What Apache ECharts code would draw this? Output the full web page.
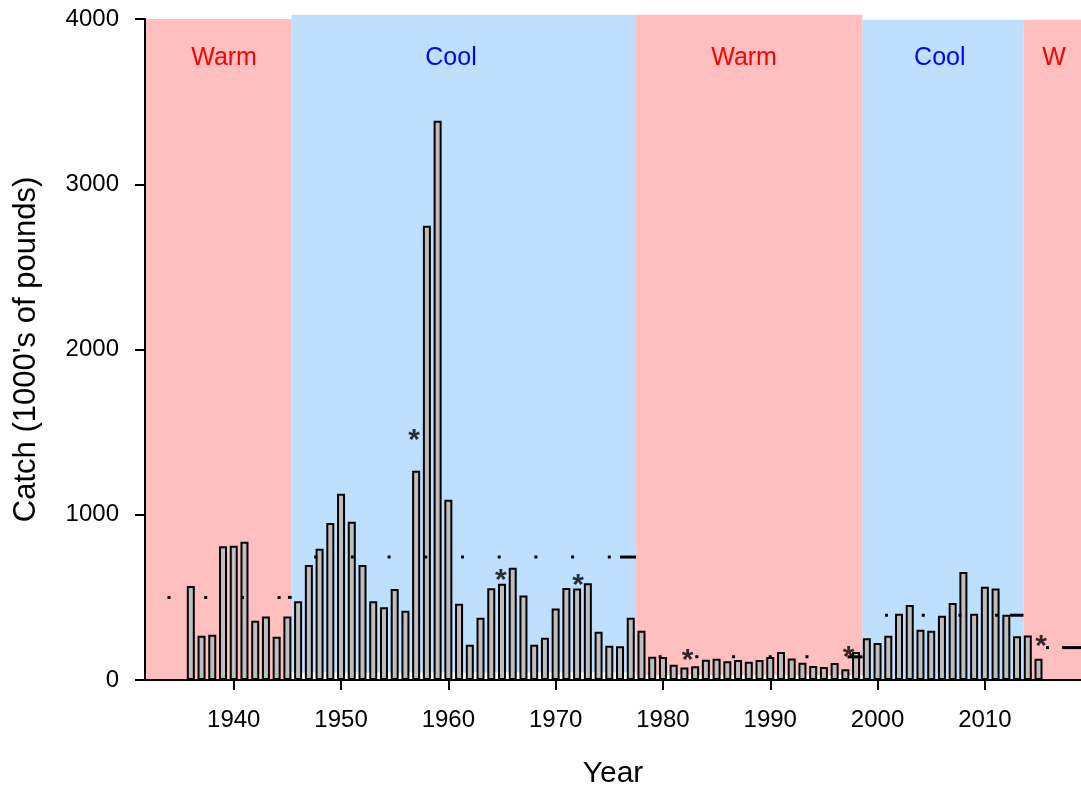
<!DOCTYPE html>
<html>
<head>
<meta charset="utf-8">
<title>Catch by year</title>
<script src="https://cdn.jsdelivr.net/npm/echarts@6/dist/echarts.min.js"></script>
</head>
<body style="margin:0">
<div id="main" style="width:1081px;height:791px;"></div>
<script>
// annual catch, 1000's of pounds
var years = [
    1936, 1937, 1938, 1939, 1940, 1941, 1942, 1943, 1944, 1945,
    1946, 1947, 1948, 1949, 1950, 1951, 1952, 1953, 1954, 1955,
    1956, 1957, 1958, 1959, 1960, 1961, 1962, 1963, 1964, 1965,
    1966, 1967, 1968, 1969, 1970, 1971, 1972, 1973, 1974, 1975,
    1976, 1977, 1978, 1979, 1980, 1981, 1982, 1983, 1984, 1985,
    1986, 1987, 1988, 1989, 1990, 1991, 1992, 1993, 1994, 1995,
    1996, 1997, 1998, 1999, 2000, 2001, 2002, 2003, 2004, 2005,
    2006, 2007, 2008, 2009, 2010, 2011, 2012, 2013, 2014, 2015
];
var catchValues = [
    569, 268, 274, 809, 813, 837, 359, 385, 262, 385,
    476, 696, 795, 950, 1127, 958, 696, 476, 440, 551,
    419, 1267, 2749, 3385, 1091, 462, 214, 377, 555, 583,
    680, 512, 214, 256, 432, 557, 553, 585, 292, 208,
    204, 377, 298, 141, 139, 93, 75, 83, 123, 129,
    113, 121, 111, 121, 139, 169, 130, 105, 85, 79,
    103, 65, 169, 252, 224, 268, 401, 454, 304, 298,
    389, 466, 654, 401, 565, 553, 395, 264, 270, 129
];

// warm / cool regimes
var regimeNames  = ['Warm', 'Cool', 'Warm', 'Cool', 'W'];
var regimeStart  = [1931.73, 1945.4, 1977.5, 1998.6, 2013.6];
var regimeEnd    = [1945.4, 1977.5, 1998.6, 2013.6, 2019];
var regimeTop    = [4000, 4025, 4025, 3995, 3995];
var regimeBottom = [0, 45, 30, 0, 0];
var regimeMean   = [500, 744, 140, 392, 196];
var meanDashFrom = [1945.05, 1976.0, 1997.2, 2012.35, 2017.2];
var labelYear    = [1939.1, 1960.25, 1987.56, 2005.8, 2016.45];
var labelValue   = 3764;

// asterisks
var starYears  = [1956.8, 1964.9, 1972.1, 1982.3, 1997.3, 2015.25];
var starValues = [1492, 644, 613, 161, 177, 242];

var tickYears = [1940, 1950, 1960, 1970, 1980, 1990, 2000, 2010];

var FONT = '"Liberation Sans", Arial, sans-serif';
var warmFill = '#FFBFBF', coolFill = '#BFDFFF';

var regimeData = regimeNames.map(function (n, i) {
    return [regimeStart[i], regimeEnd[i], regimeTop[i], regimeBottom[i]];
});
var meanData = regimeNames.map(function (n, i) {
    return [regimeStart[i], regimeEnd[i], regimeMean[i], meanDashFrom[i]];
});

option = {
    animation: false,
    grid: {left: 145, right: 0, top: 19, bottom: 111, containLabel: false, outerBoundsMode: 'none'},
    xAxis: {
        type: 'value',
        min: 1931.73,
        max: 2018.96,
        z: 10,
        splitLine: {show: false},
        axisLine: {lineStyle: {color: '#000', width: 2}},
        axisTick: {length: 10, customValues: tickYears, lineStyle: {color: '#000', width: 2}},
        axisLabel: {
            customValues: tickYears, margin: 28, fontSize: 24, color: '#000', fontFamily: FONT,
            formatter: function (v) { return String(v); }
        },
        name: 'Year',
        nameLocation: 'middle',
        nameGap: 79,
        nameTextStyle: {fontSize: 30, color: '#000', fontFamily: FONT}
    },
    yAxis: {
        type: 'value',
        min: 0,
        max: 4000,
        interval: 1000,
        z: 10,
        splitLine: {show: false},
        axisLine: {show: true, lineStyle: {color: '#000', width: 2}},
        axisTick: {show: true, length: 10, lineStyle: {color: '#000', width: 2}},
        axisLabel: {
            margin: 26, fontSize: 24, color: '#000', fontFamily: FONT,
            formatter: function (v) { return String(v); }
        },
        name: "Catch (1000's of pounds)",
        nameLocation: 'middle',
        nameGap: 103,
        nameTextStyle: {fontSize: 31, color: '#000', fontFamily: FONT}
    },
    series: [
        {
            // background bands with their labels
            type: 'custom',
            clip: false,
            z: 1,
            silent: true,
            data: regimeData,
            encode: {x: [0, 1], y: [2, 3]},
            renderItem: function (params, api) {
                var i = params.dataIndex;
                var p0 = api.coord([api.value(0), api.value(2)]);
                var p1 = api.coord([api.value(1), api.value(3)]);
                var warm = regimeNames[i].charAt(0) == 'W';
                var lp = api.coord([labelYear[i], labelValue]);
                return {
                    type: 'group',
                    children: [
                        {
                            type: 'rect',
                            shape: {x: p0[0], y: p0[1], width: p1[0] - p0[0], height: p1[1] - p0[1]},
                            style: {fill: warm ? warmFill : coolFill}
                        },
                        {
                            type: 'text',
                            x: lp[0], y: lp[1],
                            style: {
                                text: regimeNames[i], fill: warm ? '#FF0000' : '#0000FF',
                                fontSize: 25, fontFamily: FONT, align: 'center', verticalAlign: 'middle'
                            }
                        }
                    ]
                };
            }
        },
        {
            // border is drawn inside the bar, so this is the outer width
            type: 'bar',
            z: 3,
            barWidth: 8,
            data: years.map(function (y, i) { return [y, catchValues[i]]; }),
            itemStyle: {color: '#BEBEBE', borderColor: '#000', borderWidth: 2}
        },
        {
            // regime means: sparse dotted line ending in a short dash
            type: 'custom',
            clip: false,
            z: 4,
            silent: true,
            data: meanData,
            encode: {x: [0, 1], y: 2},
            renderItem: function (params, api) {
                var a = api.coord([api.value(0), api.value(2)]);
                var b = api.coord([api.value(1), api.value(2)]);
                var d = api.coord([api.value(3), api.value(2)]);
                return {
                    type: 'group',
                    children: [
                        {
                            type: 'line',
                            shape: {x1: a[0], y1: a[1], x2: d[0] - 6, y2: a[1]},
                            style: {stroke: '#000', lineWidth: 3, lineDash: [3, 33.7], lineDashOffset: 14.2}
                        },
                        {
                            type: 'line',
                            shape: {x1: d[0], y1: d[1], x2: b[0], y2: b[1]},
                            style: {stroke: '#000', lineWidth: 3}
                        }
                    ]
                };
            }
        },
        {
            type: 'scatter',
            z: 5,
            silent: true,
            symbol: 'circle',
            symbolSize: 1,
            itemStyle: {color: 'rgba(0,0,0,0)'},
            data: starYears.map(function (y, i) { return [y, starValues[i]]; }),
            label: {
                show: true, position: 'inside', formatter: '*',
                fontSize: 30, fontWeight: 'bold', color: '#000', fontFamily: FONT, offset: [0, 7]
            }
        }
    ]
};

var myChart = echarts.init(document.getElementById('main'));
myChart.setOption(option);
</script>
</body>
</html>
